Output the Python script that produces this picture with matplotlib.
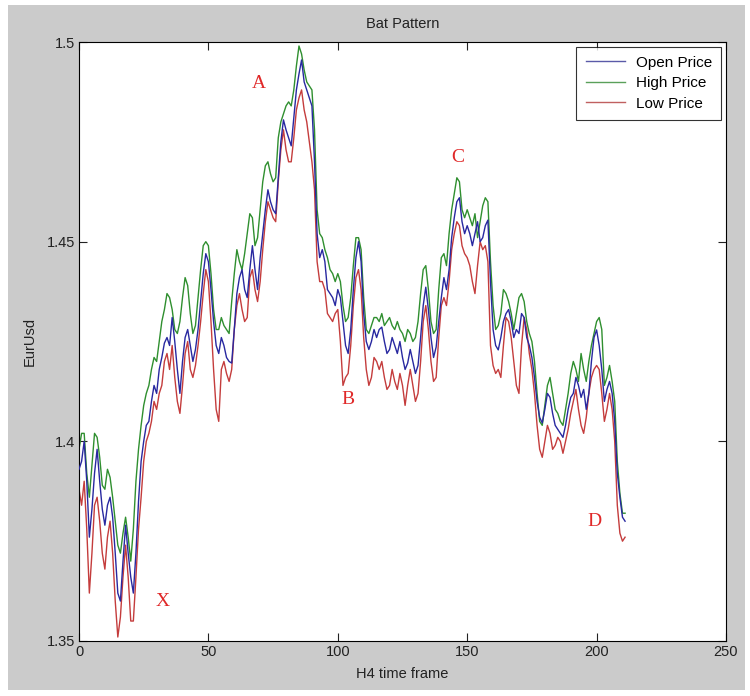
import matplotlib
matplotlib.use("Agg")
import matplotlib.pyplot as plt
from matplotlib.patches import Rectangle

plt.rcParams['font.family'] = ['Liberation Sans', 'DejaVu Sans']

open_price = [
    1.393, 1.395, 1.400, 1.390, 1.376, 1.383, 1.392, 1.398, 1.390, 1.383,
    1.379, 1.384, 1.386, 1.381, 1.372, 1.362, 1.360, 1.370, 1.379, 1.372,
    1.366, 1.362, 1.372, 1.385, 1.395, 1.400, 1.404, 1.405, 1.410, 1.414,
    1.412, 1.418, 1.421, 1.4246, 1.426, 1.424, 1.431, 1.425, 1.418, 1.412,
    1.420, 1.426, 1.428, 1.424, 1.420, 1.423, 1.428, 1.435, 1.442, 1.447,
    1.445, 1.438, 1.430, 1.424, 1.422, 1.426, 1.424, 1.421, 1.420, 1.4196,
    1.428, 1.437, 1.441, 1.443, 1.438, 1.436, 1.443, 1.449, 1.443, 1.438,
    1.446, 1.452, 1.458, 1.463, 1.460, 1.458, 1.457, 1.466, 1.475, 1.4805,
    1.478, 1.476, 1.474, 1.481, 1.488, 1.492, 1.4955, 1.490, 1.488, 1.486,
    1.484, 1.470, 1.452, 1.446, 1.448, 1.445, 1.438, 1.437, 1.436, 1.434,
    1.438, 1.436, 1.430, 1.424, 1.422, 1.428, 1.438, 1.446, 1.450, 1.445,
    1.432, 1.425, 1.423, 1.425, 1.428, 1.426, 1.428, 1.4286, 1.425, 1.422,
    1.423, 1.426, 1.424, 1.422, 1.425, 1.421, 1.418, 1.4196, 1.423, 1.420,
    1.417, 1.419, 1.426, 1.434, 1.4386, 1.433, 1.426, 1.421, 1.4236, 1.430,
    1.436, 1.441, 1.438, 1.443, 1.451, 1.456, 1.460, 1.461, 1.455, 1.452,
    1.454, 1.452, 1.449, 1.452, 1.455, 1.450, 1.451, 1.454, 1.4554, 1.440,
    1.428, 1.424, 1.4229, 1.426, 1.430, 1.432, 1.433, 1.430, 1.426, 1.428,
    1.427, 1.432, 1.431, 1.426, 1.424, 1.421, 1.416, 1.410, 1.406, 1.4046,
    1.408, 1.412, 1.411, 1.407, 1.404, 1.403, 1.402, 1.401, 1.404, 1.408,
    1.411, 1.412, 1.416, 1.414, 1.411, 1.413, 1.408, 1.412, 1.420, 1.426,
    1.4279, 1.424, 1.418, 1.410, 1.413, 1.415, 1.412, 1.405, 1.392, 1.386,
    1.381, 1.380,
]

high_price = [
    1.398, 1.402, 1.402, 1.392, 1.386, 1.394, 1.402, 1.401, 1.396, 1.389,
    1.388, 1.393, 1.391, 1.386, 1.380, 1.374, 1.372, 1.377, 1.381, 1.376,
    1.370, 1.378, 1.390, 1.398, 1.404, 1.409, 1.412, 1.414, 1.418, 1.421,
    1.420, 1.425, 1.430, 1.433, 1.437, 1.436, 1.433, 1.428, 1.427, 1.430,
    1.436, 1.441, 1.439, 1.432, 1.427, 1.429, 1.436, 1.443, 1.449, 1.450,
    1.449, 1.442, 1.433, 1.428, 1.428, 1.431, 1.429, 1.428, 1.427, 1.435,
    1.442, 1.448, 1.445, 1.443, 1.447, 1.452, 1.457, 1.456, 1.449, 1.451,
    1.458, 1.465, 1.469, 1.470, 1.467, 1.465, 1.466, 1.476, 1.480, 1.482,
    1.484, 1.485, 1.484, 1.488, 1.494, 1.499, 1.497, 1.493, 1.490, 1.489,
    1.488, 1.478, 1.458, 1.452, 1.451, 1.448, 1.446, 1.443, 1.442, 1.440,
    1.442, 1.440, 1.434, 1.430, 1.431, 1.436, 1.444, 1.451, 1.451, 1.448,
    1.436, 1.428, 1.427, 1.429, 1.431, 1.431, 1.430, 1.432, 1.429, 1.430,
    1.431, 1.429, 1.428, 1.430, 1.428, 1.427, 1.425, 1.428, 1.427, 1.425,
    1.426, 1.430, 1.437, 1.443, 1.444, 1.438, 1.430, 1.427, 1.428, 1.438,
    1.446, 1.447, 1.444, 1.452, 1.458, 1.462, 1.466, 1.465, 1.458, 1.456,
    1.458, 1.456, 1.454, 1.457, 1.451, 1.455, 1.459, 1.461, 1.460, 1.445,
    1.434, 1.428, 1.429, 1.432, 1.438, 1.437, 1.435, 1.432, 1.428, 1.432,
    1.436, 1.437, 1.435, 1.430, 1.427, 1.425, 1.420, 1.412, 1.405, 1.404,
    1.409, 1.414, 1.416, 1.412, 1.408, 1.407, 1.405, 1.404, 1.408, 1.412,
    1.417, 1.420, 1.418, 1.415, 1.422, 1.418, 1.415, 1.420, 1.424, 1.427,
    1.430, 1.431, 1.428, 1.414, 1.416, 1.419, 1.415, 1.410, 1.395, 1.387,
    1.382, 1.382,
]

low_price = [
    1.388, 1.384, 1.390, 1.378, 1.362, 1.372, 1.384, 1.386, 1.380, 1.372,
    1.368, 1.376, 1.380, 1.372, 1.360, 1.351, 1.356, 1.366, 1.374, 1.366,
    1.355, 1.355, 1.366, 1.378, 1.386, 1.395, 1.400, 1.402, 1.405, 1.410,
    1.408, 1.412, 1.414, 1.420, 1.422, 1.418, 1.424, 1.416, 1.410, 1.407,
    1.414, 1.422, 1.425, 1.418, 1.416, 1.419, 1.424, 1.430, 1.437, 1.443,
    1.440, 1.430, 1.418, 1.408, 1.405, 1.418, 1.420, 1.417, 1.415, 1.418,
    1.428, 1.434, 1.437, 1.433, 1.430, 1.431, 1.441, 1.443, 1.438, 1.435,
    1.440, 1.448, 1.455, 1.460, 1.458, 1.456, 1.455, 1.465, 1.473, 1.478,
    1.473, 1.470, 1.470, 1.476, 1.483, 1.486, 1.488, 1.483, 1.480, 1.475,
    1.470, 1.463, 1.445, 1.440, 1.440, 1.438, 1.432, 1.431, 1.430, 1.432,
    1.433, 1.425, 1.414, 1.416, 1.417, 1.424, 1.434, 1.441, 1.443, 1.438,
    1.426, 1.418, 1.414, 1.416, 1.421, 1.420, 1.418, 1.420, 1.416, 1.413,
    1.414, 1.418, 1.415, 1.413, 1.417, 1.414, 1.409, 1.414, 1.418, 1.414,
    1.410, 1.412, 1.420, 1.430, 1.434, 1.428, 1.420, 1.415, 1.416, 1.426,
    1.434, 1.436, 1.434, 1.440, 1.448, 1.452, 1.455, 1.454, 1.449, 1.447,
    1.446, 1.444, 1.440, 1.437, 1.444, 1.450, 1.448, 1.449, 1.445, 1.424,
    1.419, 1.417, 1.418, 1.416, 1.424, 1.431, 1.430, 1.426, 1.420, 1.414,
    1.412, 1.424, 1.431, 1.428, 1.422, 1.418, 1.412, 1.404, 1.398, 1.396,
    1.400, 1.404, 1.402, 1.398, 1.399, 1.401, 1.400, 1.397, 1.400, 1.403,
    1.407, 1.410, 1.413, 1.408, 1.404, 1.402, 1.406, 1.412, 1.416, 1.418,
    1.419, 1.418, 1.412, 1.405, 1.408, 1.412, 1.408, 1.400, 1.384, 1.377,
    1.375, 1.376,
]

series_labels = ["Open Price", "High Price", "Low Price"]
point_labels = ["A", "B", "C", "D", "X"]
point_x = [69.5, 104, 146.5, 199, 32.5]
point_y = [1.4895, 1.4105, 1.4712, 1.380, 1.360]

x_ticks = [0, 50, 100, 150, 200, 250]
y_ticks = [1.35, 1.4, 1.45, 1.5]
y_tick_labels = ["1.35", "1.4", "1.45", "1.5"]

W, H = 750, 696
fig = plt.figure(figsize=(W / 100, H / 100), dpi=100)
fig.patch.set_facecolor("white")
fig.patches.append(Rectangle((8 / W, 1 - 690 / H), (745 - 8) / W, (690 - 5) / H,
                             transform=fig.transFigure, facecolor="#cbcbcb",
                             edgecolor="none", zorder=-10))

ax = fig.add_axes([79 / W, 1 - 641 / H, (726 - 79) / W, (641 - 42) / H])
ax.set_facecolor("white")

xs = list(range(len(open_price)))
ax.plot(xs, open_price, color="#2828a0", lw=1.0, label=series_labels[0], zorder=3)
ax.plot(xs, high_price, color="#2f8f2f", lw=1.0, label=series_labels[1], zorder=2)
ax.plot(xs, low_price, color="#c43c3c", lw=1.0, label=series_labels[2], zorder=1)

for lab, px, py in zip(point_labels, point_x, point_y):
    ax.text(px, py, lab, color="#e02828", fontsize=14, family=["Liberation Serif", "DejaVu Serif"],
            ha="center", va="center")

ax.set_xlim(0, 250)
ax.set_ylim(1.35, 1.5)
ax.set_xticks(x_ticks)
ax.set_yticks(y_ticks)
ax.set_yticklabels(y_tick_labels)
ax.tick_params(direction="in", length=6, width=0.8, top=True, right=True,
               labelsize=10.5, pad=3, colors="#222222")
for sp in ax.spines.values():
    sp.set_linewidth(0.8)

ax.set_title("Bat Pattern", fontsize=10.5, pad=10, color="#222222")
ax.set_xlabel("H4 time frame", fontsize=10.5, labelpad=6, color="#222222")
ax.set_ylabel("EurUsd", fontsize=10.5, labelpad=7, color="#222222")

leg = ax.legend(loc="upper right", fontsize=11, frameon=True, fancybox=False,
                edgecolor="black", handlelength=2.6, borderpad=0.6,
                labelspacing=0.42, handletextpad=0.7, borderaxespad=0.3)
leg.get_frame().set_linewidth(0.8)
for h, c in zip(leg.get_lines(), ["#5a5aa8", "#5aa05a", "#c06060"]):
    h.set_color(c)

fig.savefig("out.png", dpi=100, facecolor=fig.get_facecolor())
